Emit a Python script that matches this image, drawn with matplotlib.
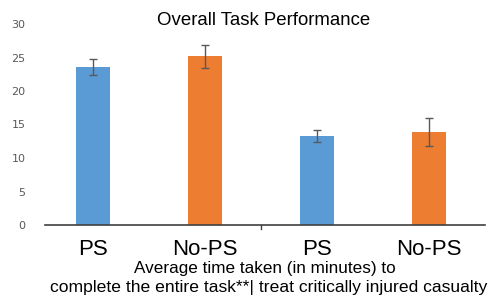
import matplotlib
matplotlib.use("Agg")
import matplotlib.pyplot as plt

labels = ["PS", "No-PS", "PS", "No-PS"]
values = [23.6, 25.2, 13.3, 13.9]
errors = [1.25, 1.7, 0.9, 2.1]
colors = ["#5B9BD5", "#ED7D31", "#5B9BD5", "#ED7D31"]

fig = plt.figure(figsize=(4.93, 2.99), dpi=100)
ax = fig.add_axes([45 / 493, 74 / 299, 440 / 493, 201 / 299])

x = range(len(values))
ax.bar(x, values, width=0.3, color=colors, yerr=errors, capsize=3,
       error_kw=dict(ecolor="#595959", elinewidth=1, capthick=1))

ax.set_xlim(-0.43, 3.5)
ax.set_ylim(0, 30)
ax.set_yticks(range(0, 31, 5))
ax.set_xticks(list(x))
ax.set_xticklabels(labels, fontsize=16, family="Liberation Sans")
ax.tick_params(axis="x", length=0, pad=10)
ax.tick_params(axis="y", length=0, labelsize=8, labelcolor="#595959", pad=14)
for s in ["top", "right", "left"]:
    ax.spines[s].set_visible(False)
ax.spines["bottom"].set_color("#404040")
ax.spines["bottom"].set_linewidth(1.2)
# small divider tick between the two groups
ax.plot([1.5, 1.5], [0, -0.6], color="#404040", lw=1, clip_on=False)

fig.text(0.535, 0.93, "Overall Task Performance", ha="center", va="center",
         fontsize=13.4, family="Liberation Sans")
fig.text(0.538, 0.102, "Average time taken (in minutes) to", ha="center",
         va="center", fontsize=12.3, family="Liberation Sans")
fig.text(0.545, 0.04, "complete the entire task**| treat critically injured casualty",
         ha="center", va="center", fontsize=12.6, family="Liberation Sans")

fig.savefig("out.png", dpi=100)
